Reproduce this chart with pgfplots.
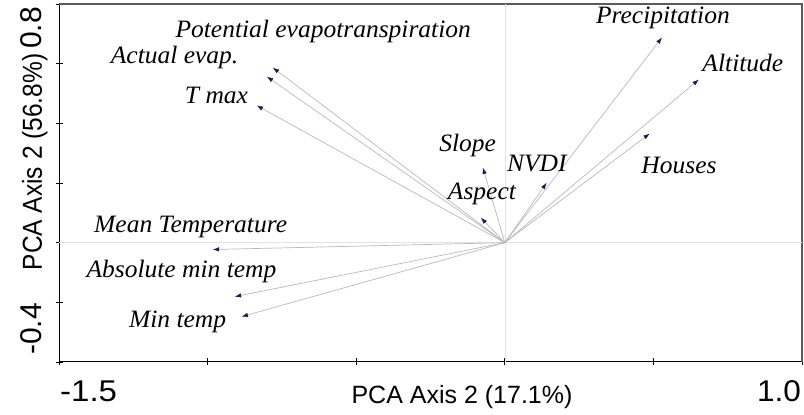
\documentclass[border=0pt]{standalone}
\usepackage{pgfplots}
\pgfplotsset{compat=1.18}
\usepackage{graphicx}
\usepackage{fontspec}
\setmainfont{Liberation Serif}
\newfontfamily\arial{Liberation Sans}
\usetikzlibrary{arrows.meta}
\definecolor{navyc}{RGB}{25,25,100}
\definecolor{vecgray}{RGB}{185,185,185}
\definecolor{framegray}{RGB}{90,90,90}
\newcommand{\lab}[1]{\scalebox{1.02}[1]{\fontsize{25}{27}\selectfont\itshape #1}}
\begin{document}
\begin{tikzpicture}
\useasboundingbox (-59pt,-53pt) rectangle (745pt,362pt);
\begin{axis}[
  scale only axis, width=743pt, height=358pt,
  xmin=-1.5, xmax=1.0, ymin=-0.4, ymax=0.8,
  axis lines*=left,
  axis line style={-, black, line width=1pt},
  xtick={-1.5,-1,-0.5,0,0.5,1}, ytick={-0.4,-0.2,0,0.2,0.4,0.6,0.8},
  xticklabels={}, yticklabels={},
  tick align=center, major tick length=7pt,
  tick style={black, line width=0.9pt},
  clip=false,
  vec/.style={color=vecgray, line width=0.7pt, -{Latex[length=6.5pt,width=4.5pt,color=navyc]}},
]
\draw[framegray, line width=2.4pt] (rel axis cs:0,1) -- (rel axis cs:1,1) -- (rel axis cs:1,0);
\addplot[gray!22, line width=0.6pt] coordinates {(-1.5,0) (1,0)};
\addplot[gray!22, line width=0.6pt] coordinates {(0,-0.4) (0,0.8)};
% vectors
\addplot[vec] coordinates {(0,0) (-0.781,0.587)};
\addplot[vec] coordinates {(0,0) (-0.801,0.557)};
\addplot[vec] coordinates {(0,0) (-0.835,0.460)};
\addplot[vec] coordinates {(0,0) (0.529,0.688)};
\addplot[vec] coordinates {(0,0) (0.653,0.547)};
\addplot[vec] coordinates {(0,0) (0.488,0.366)};
\addplot[vec] coordinates {(0,0) (0.141,0.201)};
\addplot[vec] coordinates {(0,0) (-0.074,0.252)};
\addplot[vec] coordinates {(0,0) (-0.081,0.084)};
\addplot[vec] coordinates {(0,0) (-0.983,-0.023)};
\addplot[vec] coordinates {(0,0) (-0.909,-0.181)};
\addplot[vec] coordinates {(0,0) (-0.886,-0.248)};
% labels
\node at (axis cs:-0.611,0.708) {\lab{Potential evapotranspiration}};
\node at (axis cs:-1.111,0.621) {\lab{Actual evap.}};
\node at (axis cs:-0.970,0.493) {\lab{T max}};
\node at (axis cs:0.532,0.752) {\lab{Precipitation}};
\node at (axis cs:0.801,0.604) {\lab{Altitude}};
\node at (axis cs:0.586,0.258) {\lab{Houses}};
\node at (axis cs:0.108,0.265) {\lab{NVDI}};
\node at (axis cs:-0.125,0.326) {\lab{Slope}};
\node at (axis cs:-0.077,0.164) {\lab{Aspect}};
\node at (axis cs:-1.057,0.054) {\lab{Mean Temperature}};
\node at (axis cs:-1.088,-0.097) {\lab{Absolute min temp}};
\node at (axis cs:-1.101,-0.265) {\lab{Min temp}};
\end{axis}
% tick labels and axis titles
\node[anchor=base west, inner sep=0pt] at (1pt,-40pt) {\scalebox{1.1}[1]{\arial\fontsize{30}{32}\selectfont -1.5}};
\node[anchor=base east, inner sep=0pt] at (742pt,-40pt) {\scalebox{1.05}[1]{\arial\fontsize{30}{32}\selectfont 1.0}};
\node[anchor=base, inner sep=0pt] at (403pt,-42pt) {\arial\fontsize{25}{27}\selectfont PCA Axis 2 (17.1\%)};
\node[rotate=90, anchor=base, inner sep=0pt] at (-17pt,200pt) {\scalebox{1}[1.12]{\arial\fontsize{24.5}{27}\selectfont PCA Axis 2 (56.8\%)}};
\node[rotate=90, anchor=base east, inner sep=0pt] at (-17pt,355pt) {\arial\fontsize{30}{32}\selectfont 0.8};
\node[rotate=90, anchor=base west, inner sep=0pt] at (-17pt,7pt) {\arial\fontsize{30}{32}\selectfont -0.4};
\end{tikzpicture}
\end{document}
